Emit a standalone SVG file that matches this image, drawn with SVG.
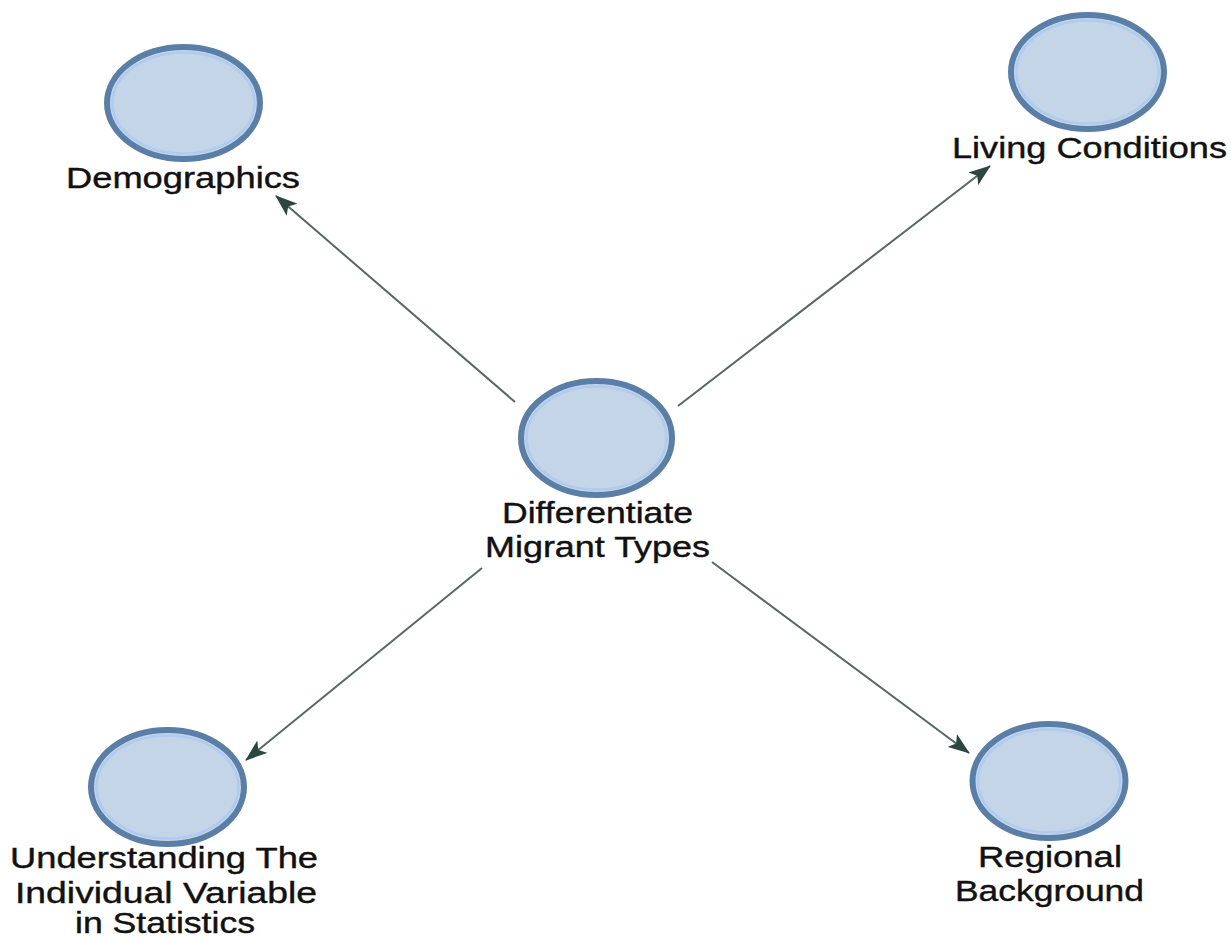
<svg xmlns="http://www.w3.org/2000/svg" width="1231" height="937" viewBox="0 0 1231 937">
  <defs>
    <marker id="arrow" viewBox="0 0 22 16" refX="21" refY="8" markerWidth="22" markerHeight="16" markerUnits="userSpaceOnUse" orient="auto">
      <path d="M0,0 L22,8 L0,16 L5,8 Z" fill="#2e4640"/>
    </marker>
  </defs>
  <style>
    .node-body { fill: #c5d5e8; stroke: #5a7ea6; stroke-width: 6; }
    .node-glow { fill: none; stroke: #aecbf0; stroke-width: 2.5; }
    .label { font-family: "Liberation Sans", Arial, sans-serif; font-size: 29px; fill: #111111; stroke: #111111; stroke-width: 0.4; text-anchor: middle; }
    .link { stroke: #56685f; stroke-width: 2; fill: none; marker-end: url(#arrow); }
  </style>
  <rect width="1231" height="937" fill="#ffffff"/>

  <!-- connectors from the central topic to each branch -->
  <g id="connectors">
    <line class="link" x1="515" y1="402" x2="276" y2="196"/>
    <line class="link" x1="678" y1="406" x2="990" y2="166"/>
    <line class="link" x1="482" y1="568" x2="246" y2="760"/>
    <line class="link" x1="712" y1="562" x2="969" y2="753"/>
  </g>

  <g id="node-center">
    <ellipse class="node-body" cx="596.5" cy="438" rx="75.5" ry="57"/>
    <ellipse class="node-glow" cx="596.5" cy="438" rx="70" ry="51.5"/>
    <text class="label" x="597.5" y="523" textLength="191" lengthAdjust="spacingAndGlyphs">Differentiate</text>
    <text class="label" x="597.5" y="557" textLength="225" lengthAdjust="spacingAndGlyphs">Migrant Types</text>
  </g>

  <g id="node-demographics">
    <ellipse class="node-body" cx="183.5" cy="103" rx="76.5" ry="56"/>
    <ellipse class="node-glow" cx="183.5" cy="103" rx="71" ry="50.5"/>
    <text class="label" x="183" y="188" textLength="234" lengthAdjust="spacingAndGlyphs">Demographics</text>
  </g>

  <g id="node-living">
    <ellipse class="node-body" cx="1087.5" cy="72" rx="76.5" ry="57"/>
    <ellipse class="node-glow" cx="1087.5" cy="72" rx="71" ry="51.5"/>
    <text class="label" x="1089.5" y="158" textLength="275" lengthAdjust="spacingAndGlyphs">Living Conditions</text>
  </g>

  <g id="node-understanding">
    <ellipse class="node-body" cx="167.5" cy="787" rx="76.5" ry="57"/>
    <ellipse class="node-glow" cx="167.5" cy="787" rx="71" ry="51.5"/>
    <text class="label" x="164" y="868" textLength="308" lengthAdjust="spacingAndGlyphs">Understanding The</text>
    <text class="label" x="166" y="903" textLength="302" lengthAdjust="spacingAndGlyphs">Individual Variable</text>
    <text class="label" x="165" y="933" textLength="180" lengthAdjust="spacingAndGlyphs">in Statistics</text>
  </g>

  <g id="node-regional">
    <ellipse class="node-body" cx="1049" cy="781" rx="76.5" ry="57"/>
    <ellipse class="node-glow" cx="1049" cy="781" rx="71" ry="51.5"/>
    <text class="label" x="1050" y="867" textLength="144" lengthAdjust="spacingAndGlyphs">Regional</text>
    <text class="label" x="1049.5" y="901" textLength="189" lengthAdjust="spacingAndGlyphs">Background</text>
  </g>
</svg>
